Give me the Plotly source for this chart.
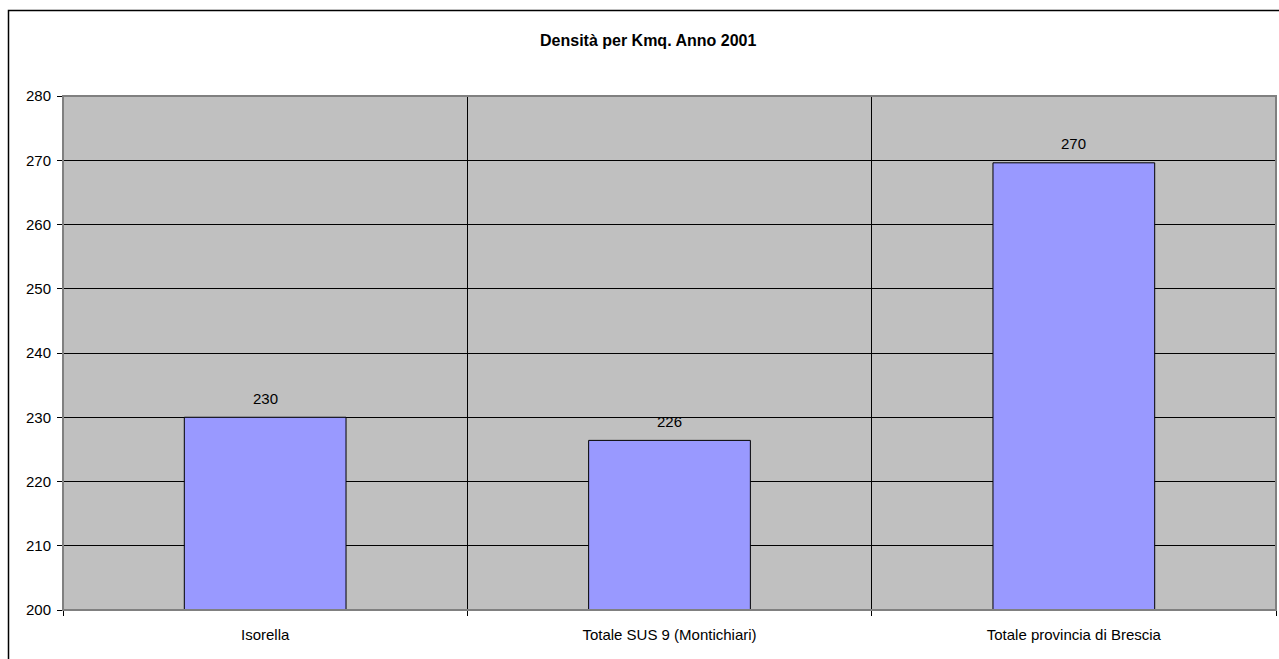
import plotly.graph_objects as go

categories = ["Isorella", "Totale SUS 9 (Montichiari)", "Totale provincia di Brescia"]
values = [230.0, 226.4, 269.6]
value_labels = ["230", "226", "270"]
y_ticks = [200, 210, 220, 230, 240, 250, 260, 270, 280]
title_text = "Densità per Kmq. Anno 2001"

W, H = 1279, 659
ML, MR, MT, MB = 63, 3, 96, 49
pw = W - ML - MR
ph = H - MT - MB

def px_to_paper_x(px):
    return (px - ML) / pw

def px_to_paper_y(py):
    return (H - MB - py) / ph

font = "Liberation Sans, Arial, sans-serif"

fig = go.Figure()
fig.add_trace(go.Bar(
    x=categories,
    y=values,
    width=0.4,
    marker=dict(color="#9999FF", line=dict(color="#000000", width=1)),
    hoverinfo="x+y",
))

for c, v, t in zip(categories, values, value_labels):
    fig.add_annotation(x=c, y=v, text=t, showarrow=False, yshift=19, yanchor="middle",
                       font=dict(family=font, size=15, color="#000000"))

fig.add_annotation(xref="paper", yref="paper", x=px_to_paper_x(648), y=px_to_paper_y(41),
                   xanchor="center", yanchor="middle",
                   text="<b>" + title_text + "</b>", showarrow=False,
                   font=dict(family=font, size=16, color="#000000"))

# outer chart border
fig.add_shape(type="rect", xref="paper", yref="paper",
              x0=px_to_paper_x(8.5), x1=px_to_paper_x(1300), y0=px_to_paper_y(700), y1=px_to_paper_y(10.5),
              line=dict(color="#000000", width=1.5), layer="below")
# plot area border (grey)
fig.add_shape(type="rect", xref="paper", yref="paper", x0=0, x1=1, y0=0, y1=1,
              line=dict(color="#808080", width=2), layer="above")

fig.update_layout(
    width=W, height=H,
    margin=dict(l=ML, r=MR, t=MT, b=MB),
    paper_bgcolor="#FFFFFF",
    plot_bgcolor="#C0C0C0",
    showlegend=False,
    font=dict(family=font, size=15, color="#000000"),
    bargap=0.6,
)
fig.update_xaxes(
    type="category",
    tickson="boundaries",
    ticks="outside", ticklen=5, tickcolor="#000000",
    ticklabelstandoff=11,
    showgrid=True, gridcolor="#000000", gridwidth=1,
    showline=True, linecolor="#000000", linewidth=1,
    tickfont=dict(family=font, size=15, color="#000000"),
)
fig.update_yaxes(
    range=[200, 280],
    tickvals=y_ticks,
    ticks="outside", ticklen=5, tickcolor="#000000",
    ticklabelstandoff=3,
    showgrid=True, gridcolor="#000000", gridwidth=1,
    showline=True, linecolor="#000000", linewidth=1,
    zeroline=False,
    tickfont=dict(family=font, size=15, color="#000000"),
)

fig.write_html("out.html", config={"displayModeBar": False},
               post_script="document.body.style.margin='0';")
